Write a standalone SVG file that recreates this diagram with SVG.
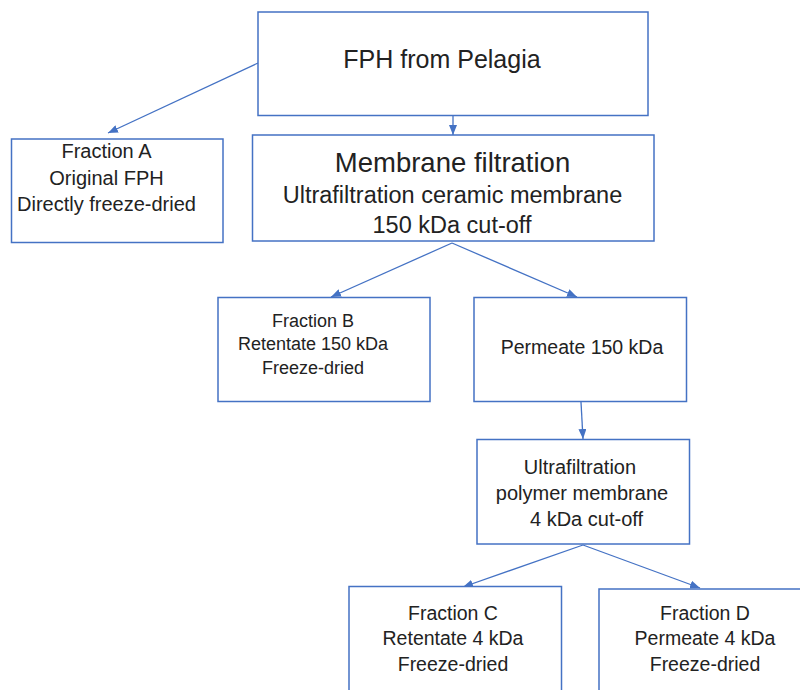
<svg xmlns="http://www.w3.org/2000/svg" width="800" height="690" viewBox="0 0 800 690">
<style>
.box{fill:#fff;stroke:#4472C4;stroke-width:1.5}
.conn{stroke:#4472C4;stroke-width:1.3;fill:none;marker-end:url(#ah)}
text{font-family:"Liberation Sans",Arial,sans-serif;fill:#222;text-anchor:middle}
.t25{font-size:25px}.t26{font-size:27.5px}.t23{font-size:23.5px}.t20{font-size:20px}.t18{font-size:18px}.t19{font-size:19.5px}.t195{font-size:20px}
</style>
<defs>
<marker id="ah" viewBox="0 0 10 8" refX="10" refY="4" markerWidth="10" markerHeight="8" markerUnits="userSpaceOnUse" orient="auto">
<path d="M0,0 L10,4 L0,8 z" fill="#4472C4"/>
</marker>
</defs>
<rect width="800" height="690" fill="#fff"/>
<g id="connectors">
<line class="conn" x1="258" y1="63" x2="108" y2="133"/>
<line class="conn" x1="453" y1="116" x2="453" y2="135"/>
<line class="conn" x1="452" y1="243" x2="331" y2="297"/>
<line class="conn" x1="452" y1="243" x2="577" y2="297"/>
<line class="conn" x1="581" y1="402" x2="583" y2="439"/>
<line class="conn" x1="583" y1="545" x2="463" y2="587"/>
<line class="conn" x1="583" y1="545" x2="700" y2="588"/>
</g>
<g id="fph">
<rect class="box" x="258" y="12" width="390" height="103.5"/>
<text class="t25" x="442" y="68">FPH from Pelagia</text>
</g>
<g id="fractionA">
<rect class="box" x="11.5" y="139" width="211.5" height="103.5"/>
<text class="t20" x="106.5" y="158">Fraction A</text>
<text class="t20" x="106.5" y="185">Original FPH</text>
<text class="t20" x="106.5" y="211">Directly freeze-dried</text>
</g>
<g id="membrane">
<rect class="box" x="252.5" y="135" width="401.5" height="106"/>
<text class="t26" x="452.5" y="172">Membrane filtration</text>
<text class="t23" x="452.5" y="203">Ultrafiltration ceramic membrane</text>
<text class="t23" x="452" y="233">150 kDa cut-off</text>
</g>
<g id="fractionB">
<rect class="box" x="218" y="297.5" width="212" height="104"/>
<text class="t18" x="313" y="327">Fraction B</text>
<text class="t18" x="313" y="350">Retentate 150 kDa</text>
<text class="t18" x="313" y="374">Freeze-dried</text>
</g>
<g id="permeate">
<rect class="box" x="474" y="297.5" width="212.5" height="104"/>
<text class="t19" x="582" y="354">Permeate 150 kDa</text>
</g>
<g id="uf">
<rect class="box" x="477" y="439.5" width="212.5" height="104.5"/>
<text class="t195" x="580" y="474">Ultrafiltration</text>
<text class="t195" x="582" y="500">polymer membrane</text>
<text class="t195" x="586.5" y="526">4 kDa cut-off</text>
</g>
<g id="fractionC">
<rect class="box" x="349" y="586.5" width="212.5" height="120"/>
<text class="t19" x="453" y="620">Fraction C</text>
<text class="t19" x="453" y="645">Retentate 4 kDa</text>
<text class="t19" x="453" y="671">Freeze-dried</text>
</g>
<g id="fractionD">
<rect class="box" x="599" y="589" width="220" height="120"/>
<text class="t19" x="705" y="620">Fraction D</text>
<text class="t19" x="705" y="645">Permeate 4 kDa</text>
<text class="t19" x="705" y="671">Freeze-dried</text>
</g>
</svg>
